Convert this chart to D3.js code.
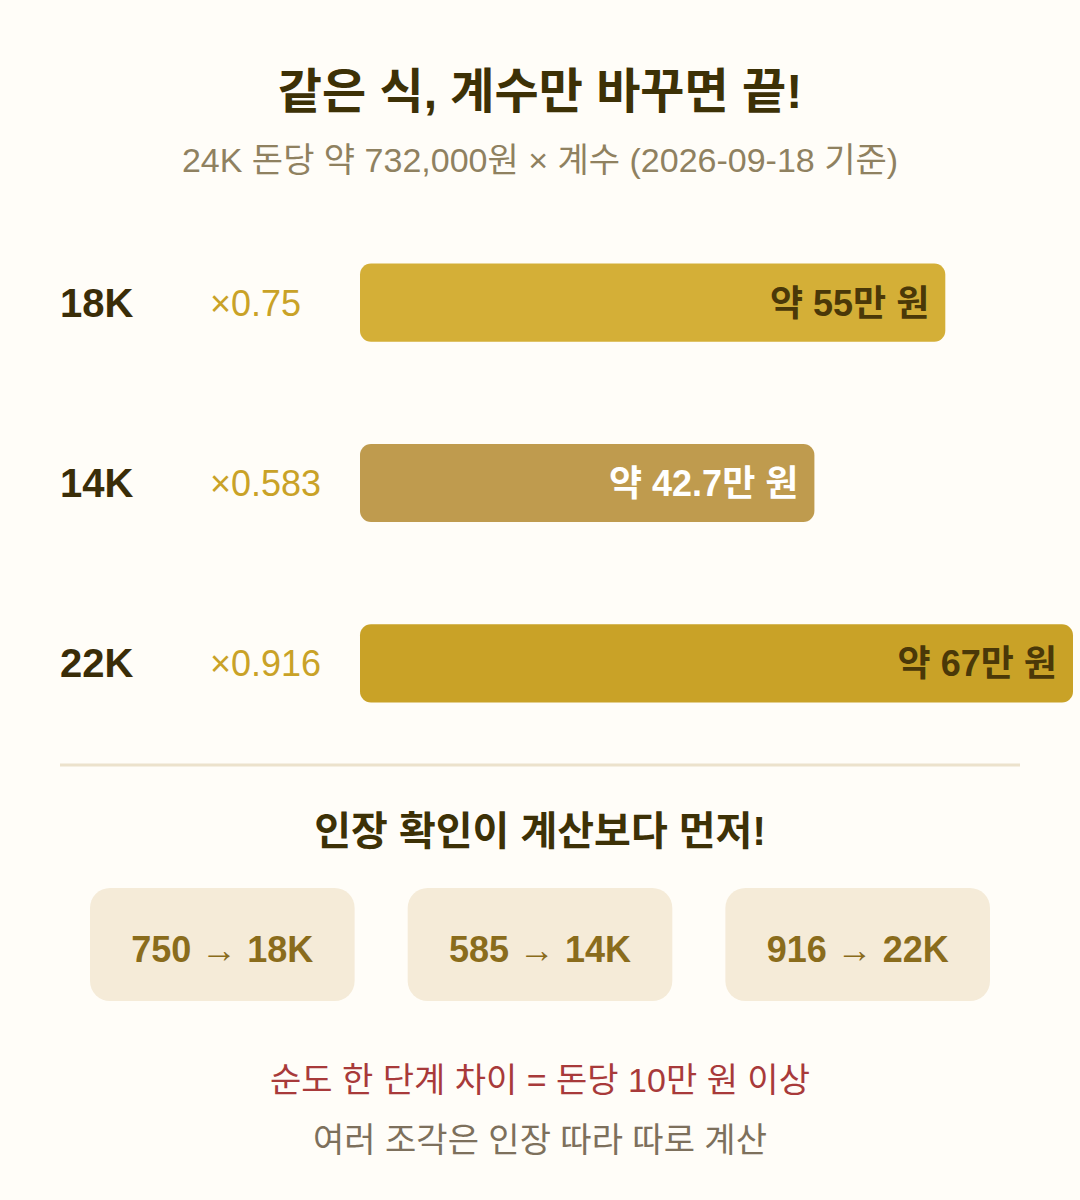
<!DOCTYPE html>
<html><head><meta charset="utf-8">
<script src="https://cdn.jsdelivr.net/npm/d3@7"></script>
<style>body{margin:0;background:#fffdf8}</style>
</head><body><svg id="c"></svg>
<script>
var karats = ["18K", "14K", "22K"];
var factors = ["×0.75", "×0.583", "×0.916"];
var values = [55, 42.7, 67];
var valueLabels = ["약 55만 원", "약 42.7만 원", "약 67만 원"];
var barColors = ["#d4af37", "#bf9b4e", "#c9a227"];
var textColors = ["#4a3808", "#ffffff", "#4a3808"];
var stamps = ["750", "585", "916"];
var stampKarats = ["18K", "14K", "22K"];

var width = 1080, height = 1200;
var font = "'Liberation Sans','Noto Sans CJK KR',sans-serif";
var svg = d3.select("#c").attr("width", width).attr("height", height)
  .style("font-family", font);
svg.append("rect").attr("width", width).attr("height", height).attr("fill", "#fffdf8");

svg.append("text").attr("x", 540).attr("y", 108).attr("text-anchor", "middle")
  .attr("font-size", 48).attr("font-weight", "bold").attr("fill", "#3d3106")
  .text("같은 식, 계수만 바꾸면 끝!");
svg.append("text").attr("x", 540).attr("y", 172).attr("text-anchor", "middle")
  .attr("font-size", 34).attr("fill", "#8f8160")
  .text("24K 돈당 약 732,000원 × 계수 (2026-09-18 기준)");

var x = d3.scaleLinear().domain([0, 67]).range([360, 1073]);
var y = d3.scaleBand().domain(karats).range([213, 753]).paddingInner(0.567).paddingOuter(0.28);

var g = svg.selectAll(".row").data(karats).enter().append("g");
g.append("text").attr("x", 60).attr("y", function(d){ return y(d) + y.bandwidth()/2 + 14; })
  .attr("font-size", 40).attr("font-weight", "bold").attr("fill", "#3a2d08").text(function(d){ return d; });
g.append("text").attr("x", 210).attr("y", function(d){ return y(d) + y.bandwidth()/2 + 13; })
  .attr("font-size", 36).attr("fill", "#c9a227").text(function(d, i){ return factors[i]; });
g.append("rect").attr("x", x(0)).attr("y", function(d){ return y(d); })
  .attr("width", function(d, i){ return x(values[i]) - x(0); }).attr("height", y.bandwidth())
  .attr("rx", 11).attr("fill", function(d, i){ return barColors[i]; });
g.append("text").attr("x", function(d, i){ return x(values[i]) - 16; })
  .attr("y", function(d){ return y(d) + y.bandwidth()/2 + 13; }).attr("text-anchor", "end")
  .attr("font-size", 36).attr("font-weight", "bold")
  .attr("fill", function(d, i){ return textColors[i]; }).text(function(d, i){ return valueLabels[i]; });

svg.append("line").attr("x1", 60).attr("x2", 1020).attr("y1", 765).attr("y2", 765)
  .attr("stroke", "#ece2cc").attr("stroke-width", 3);

svg.append("text").attr("x", 540).attr("y", 845).attr("text-anchor", "middle")
  .attr("font-size", 40).attr("font-weight", "bold").attr("fill", "#3d3106")
  .text("인장 확인이 계산보다 먼저!");

var bx = d3.scaleBand().domain(stamps).range([90, 990]).paddingInner(0.167);
var bg = svg.selectAll(".stamp").data(stamps).enter().append("g");
bg.append("rect").attr("x", function(d){ return bx(d); }).attr("y", 888)
  .attr("width", bx.bandwidth()).attr("height", 113).attr("rx", 20).attr("fill", "#f5ebd8");
bg.append("text").attr("x", function(d){ return bx(d) + bx.bandwidth()/2; }).attr("y", 962)
  .attr("text-anchor", "middle").attr("font-size", 36).attr("font-weight", "bold").attr("fill", "#8a6c1c")
  .text(function(d, i){ return d + " → " + stampKarats[i]; });

svg.append("text").attr("x", 540).attr("y", 1092).attr("text-anchor", "middle")
  .attr("font-size", 34).attr("fill", "#a83a3a").text("순도 한 단계 차이 = 돈당 10만 원 이상");
svg.append("text").attr("x", 540).attr("y", 1152).attr("text-anchor", "middle")
  .attr("font-size", 34).attr("fill", "#7d705c").text("여러 조각은 인장 따라 따로 계산");
</script></body></html>
